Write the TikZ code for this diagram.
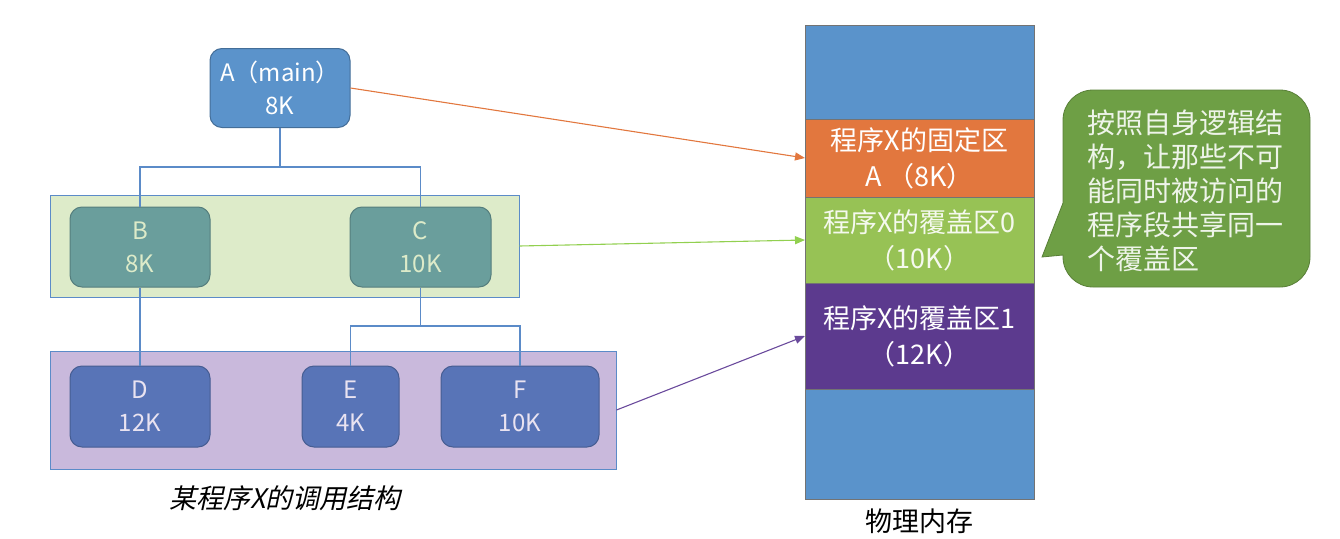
\documentclass[tikz,border=0pt]{standalone}
\usepackage{fontspec}
\setmainfont{Noto Sans CJK SC}
\newfontfamily\slantfont{Noto Sans CJK SC}[FakeSlant=0.22]
\usetikzlibrary{arrows.meta, positioning}
\definecolor{MemBlue}{HTML}{5A93CB}
\definecolor{FixOrange}{HTML}{E2773E}
\definecolor{OvlGreen}{HTML}{97C255}
\definecolor{OvlPurple}{HTML}{5C3A8E}
\definecolor{BoxBlue}{HTML}{5B93CB}
\definecolor{BoxTeal}{HTML}{6A9E9C}
\definecolor{BoxIndigo}{HTML}{5874B7}
\definecolor{PanelGreen}{HTML}{DDEBC9}
\definecolor{PanelPurple}{HTML}{C9B9DC}
\definecolor{LineBlue}{HTML}{5B8BC8}
\definecolor{NoteGreen}{HTML}{6E9F45}
\definecolor{ArrowGreen}{HTML}{92D050}
\definecolor{ArrowPurple}{HTML}{6A4A9C}

\tikzset{
  module/.style={rectangle, rounded corners=12pt, line width=1pt, inner sep=0pt,
    align=center, font=\fontsize{24}{33}\selectfont},
  panel/.style={rectangle, draw=LineBlue, line width=1pt, inner sep=0pt},
  memseg/.style={rectangle, draw=black!55, line width=0.8pt, inner sep=0pt, outer sep=0pt,
    minimum width=229pt, align=center, font=\fontsize{27}{36}\selectfont},
  tree/.style={draw=LineBlue, line width=1.3pt},
  mapto/.style={-{Triangle[length=10pt, width=8pt]}, line width=1.1pt},
}

\begin{document}
\begin{tikzpicture}[x=1pt, y=-1pt]
\useasboundingbox (0,0) rectangle (1340,538);
% --- overlay groups ---
\node[panel, fill=PanelGreen, minimum width=469pt, minimum height=102pt] (grpB) at (284.5,246) {};
\node[panel, fill=PanelPurple, minimum width=566pt, minimum height=118pt] (grpD) at (333,410) {};
% --- call structure ---
\node[module, fill=BoxBlue, draw=BoxBlue!75!black, text=white, minimum width=140pt, minimum height=79pt] (A) at (280,88) {A（main）\\8K};
\node[module, fill=BoxTeal, draw=BoxTeal!80!black, text=PanelGreen, minimum width=140pt, minimum height=80pt] (B) at (140,247) {B\\8K};
\node[module, fill=BoxTeal, draw=BoxTeal!80!black, text=PanelGreen, minimum width=141pt, minimum height=80pt] (C) at (420.5,247) {C\\10K};
\node[module, fill=BoxIndigo, draw=BoxIndigo!80!black, text=PanelPurple!40, minimum width=140pt, minimum height=81pt] (D) at (140,406.5) {D\\12K};
\node[module, fill=BoxIndigo, draw=BoxIndigo!80!black, text=PanelPurple!40, minimum width=97pt, minimum height=81pt] (E) at (350.5,406.5) {E\\4K};
\node[module, fill=BoxIndigo, draw=BoxIndigo!80!black, text=PanelPurple!40, minimum width=158pt, minimum height=81pt] (F) at (520,406.5) {F\\10K};
\coordinate (jA) at (280,167);
\coordinate (jC) at (420.5,326);
\draw[tree] (A.south) -- (A.south |- jA) -| (B.north);
\draw[tree] (A.south |- jA) -| (C.north);
\draw[tree] (B.south) -- (D.north);
\draw[tree] (C.south) -- (C.south |- jC) -| (E.north);
\draw[tree] (C.south |- jC) -| (F.north);
\node[font=\fontsize{27}{32}\slantfont] (cap) at (285,498) {某程序X的调用结构};
% --- physical memory ---
\node[memseg, fill=MemBlue, minimum height=94pt] (memTop) at (919.5,72) {};
\node[memseg, fill=FixOrange, text=white, minimum height=78pt, below=0pt of memTop] (fixA) {程序X的固定区\\A （8K）};
\node[memseg, fill=OvlGreen, text=white!90!OvlGreen, minimum height=86pt, below=0pt of fixA] (ovl0) {程序X的覆盖区0\\（10K）};
\node[memseg, fill=OvlPurple, text=white, minimum height=106pt, below=0pt of ovl0] (ovl1) {程序X的覆盖区1\\（12K）};
\node[memseg, fill=MemBlue, minimum height=110pt, below=0pt of ovl1] (memBot) {};
\node[font=\fontsize{27}{32}\selectfont] (memcap) at (919.5,521) {物理内存};
% --- mapping arrows ---
\draw[mapto, FixOrange] (A.east) -- (fixA.west);
\draw[mapto, ArrowGreen] (grpB.east) -- (ovl0.west);
\draw[mapto, ArrowPurple] (grpD.east) -- (ovl1.west);
% --- callout ---
\draw[fill=NoteGreen, draw=NoteGreen!80!black, line width=0.8pt]
  (1042,257) -- (1063,203) [rounded corners=30pt] -- (1063,90) -- (1310,90)
  -- (1310,287) -- (1063,287) [sharp corners] -- (1063,255) -- cycle;
\node[anchor=west, align=left, inner sep=0pt, text=white!88!NoteGreen,
  font=\fontsize{28}{34}\selectfont] (note) at (1087,191)
  {按照自身逻辑结\\构，让那些不可\\能同时被访问的\\程序段共享同一\\个覆盖区};
\end{tikzpicture}
\end{document}
